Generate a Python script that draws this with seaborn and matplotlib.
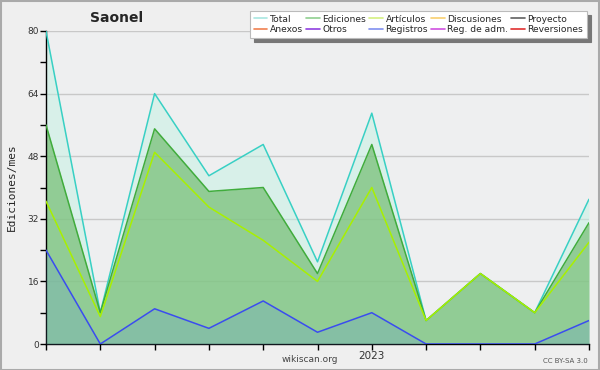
import numpy as np
import pandas as pd
import matplotlib.pyplot as plt
import seaborn as sns
from matplotlib.lines import Line2D
from matplotlib.patches import Rectangle

months = ["2022-07", "2022-08", "2022-09", "2022-10", "2022-11", "2022-12",
          "2023-01", "2023-02", "2023-03", "2023-04", "2023-05"]
total = [80, 8, 64, 43, 51, 21, 59, 6, 18, 8, 37]
ediciones = [56, 8, 55, 39, 40, 18, 51, 6, 18, 8, 31]
articulos = [36.5, 7, 49, 35, 26.5, 16, 40, 6, 18, 8, 26]
registros = [24, 0, 9, 4, 11, 3, 8, 0, 0, 0, 6]

legend_labels = ["Total", "Anexos", "Ediciones", "Otros", "Artículos", "Registros",
                 "Discusiones", "Reg. de adm.", "Proyecto", "Reversiones"]
legend_colors = ["#a8e6e0", "#f08050", "#90d090", "#9040e0", "#d4f080", "#8090f0",
                 "#f8d070", "#d050e0", "#606060", "#e03030"]

df = pd.DataFrame({
    "month": months,
    "i": np.arange(len(months)),
    "total": total,
    "ediciones": ediciones,
    "articulos": articulos,
    "registros": registros,
})

sns.set_style("white")
plt.rcParams["font.family"] = ["DejaVu Sans"]

fig = plt.figure(figsize=(6, 3.7), dpi=100, facecolor="#efefef")
ax = fig.add_axes([46 / 600, 26 / 370, 543 / 600, 313 / 370])
ax.set_facecolor("#eeeff0")

# gridlines
for v in [16, 32, 48, 64, 80]:
    ax.axhline(v, color="#c8c8c8", lw=1, zorder=0)

# fills
ax.fill_between(df["i"], df["total"], color="#c4f1e4", alpha=0.5, lw=0, zorder=1)
ax.fill_between(df["i"], df["ediciones"], color="#74bd72", alpha=0.7, lw=0, zorder=2)
ax.fill_between(df["i"], df["registros"], color="#6aa1c8", alpha=0.3, lw=0, zorder=3)

sns.lineplot(data=df, x="i", y="total", color="#38d0c4", lw=1.1, ax=ax, zorder=5)
sns.lineplot(data=df, x="i", y="ediciones", color="#40ac3c", lw=1.1, ax=ax, zorder=5)
sns.lineplot(data=df, x="i", y="articulos", color="#a8f000", lw=1.1, ax=ax, zorder=6)
sns.lineplot(data=df, x="i", y="registros", color="#3a4cf0", lw=1.1, ax=ax, zorder=7)

ax.set_xlim(0, len(months) - 1)
ax.set_ylim(0, 80)
ax.set_yticks([0, 16, 32, 48, 64, 80])
ax.set_yticks(np.arange(8, 80, 16), minor=True)
ax.set_xticks(df["i"])
ax.set_xticklabels(["2023" if m == "2023-01" else "" for m in months])
ax.tick_params(axis="both", which="both", direction="out", length=4, width=1,
               color="black", labelsize=6.5, pad=1, left=True, bottom=True)
ax.tick_params(axis="y", labelcolor="#333333")
ax.tick_params(axis="x", labelcolor="#333333", labelsize=7.5)
for s in ["top", "right"]:
    ax.spines[s].set_visible(False)
for s in ["left", "bottom"]:
    ax.spines[s].set_color("black")
    ax.spines[s].set_linewidth(1)
ax.set_xlabel("")
ax.set_ylabel("Ediciones/mes", fontsize=8, family="DejaVu Sans Mono", labelpad=8)

fig.text(117 / 600, 1 - 18 / 370, "Saonel", fontsize=10, fontweight="bold",
         ha="center", va="center")
fig.text(310 / 600, 1 - 360 / 370, "wikiscan.org", fontsize=6.5, color="#444444",
         ha="center", va="center")
fig.text(588 / 600, 1 - 361 / 370, "CC BY-SA 3.0", fontsize=5, color="#555555",
         ha="right", va="center")

handles = [Line2D([0], [0], color=c, lw=1.2) for c in legend_colors]
leg = fig.legend(handles, legend_labels, ncol=5, loc="upper right",
                 bbox_to_anchor=(587 / 600, 1 - 11 / 370), fontsize=6.6,
                 frameon=True, fancybox=False, shadow={"color": "#777777", "alpha": 1, "ox": 3, "oy": -3},
                 handlelength=1.5, handletextpad=0.3, columnspacing=0.3,
                 labelspacing=0.2, borderpad=0.4, borderaxespad=0)
leg.get_frame().set_edgecolor("#bbbbbb")
leg.get_frame().set_linewidth(0.8)

fig.add_artist(Rectangle((0.001, 0.001), 0.997, 0.997, transform=fig.transFigure,
                         fill=False, edgecolor="#aaaaaa", lw=1.5))

fig.savefig("out.png", dpi=100, facecolor=fig.get_facecolor())
